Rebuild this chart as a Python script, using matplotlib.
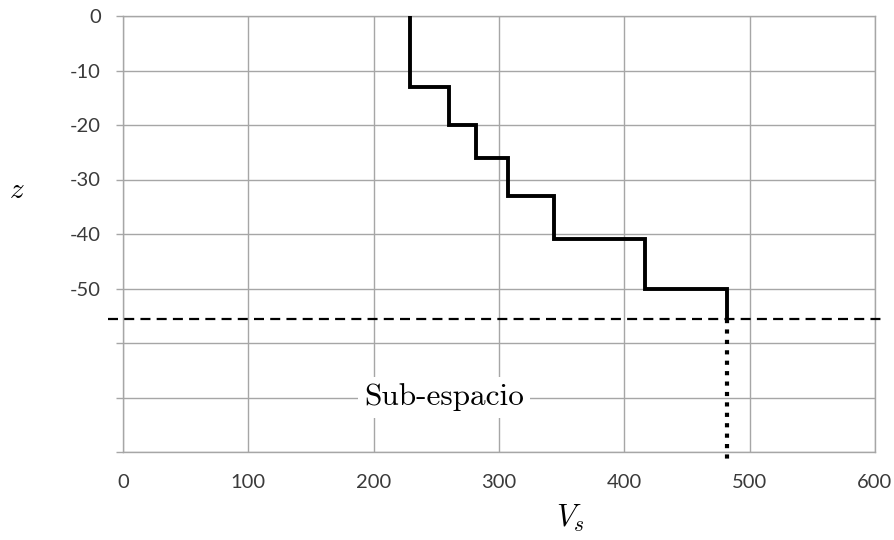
import matplotlib
matplotlib.use("Agg")
import matplotlib.pyplot as plt

# Data
vs_values = [229, 229, 260.5, 260.5, 281.5, 281.5, 307.5, 307.5, 344, 344, 416.5, 416.5, 482, 482]
z_values = [0, -13, -13, -20, -20, -26, -26, -33, -33, -41, -41, -50, -50, -55.6]
halfspace_vs = [482, 482]
halfspace_z = [-55.6, -81.8]
boundary_z = -55.6
boundary_x = [-12, 608]
x_ticks = [0, 100, 200, 300, 400, 500, 600]
y_ticks = [0, -10, -20, -30, -40, -50, -60, -70, -80]
y_tick_labels = ["0", "-10", "-20", "-30", "-40", "-50", "", "", ""]

plt.rcParams['mathtext.fontset'] = 'cm'

W, H = 894, 540
fig = plt.figure(figsize=(W / 100, H / 100), dpi=100)
left, right, top, bottom = 123, 875, 16, 452
ax = fig.add_axes([left / W, 1 - bottom / H, (right - left) / W, (bottom - top) / H])

grid_c = '#a6a6a6'
ax.set_xlim(0, 600)
ax.set_ylim(-80, 0)
ax.set_xticks(x_ticks)
ax.set_yticks(y_ticks)
ax.set_yticklabels(y_tick_labels)
ax.grid(True, color=grid_c, linewidth=1.0)
ax.set_axisbelow(True)
for s in ax.spines.values():
    s.set_color(grid_c)
    s.set_linewidth(1.0)
ax.tick_params(axis='y', length=5, color=grid_c, width=1.0, pad=11,
               labelsize=14.5, labelcolor='#3a3a3a')
ax.tick_params(axis='x', length=0, pad=16, labelsize=14.5, labelcolor='#3a3a3a')
for lbl in ax.get_xticklabels() + ax.get_yticklabels():
    lbl.set_fontfamily('Lato')

# Step profile
ax.plot(vs_values, z_values, color='black', linewidth=2.8, solid_joinstyle='miter', zorder=5)
# Half-space (dotted)
ax.plot(halfspace_vs, halfspace_z, color='black', linewidth=3.0, linestyle=(0, (1, 1.5)),
        clip_on=False, zorder=5)
# Boundary (dashed)
ax.plot(boundary_x, [boundary_z, boundary_z], color='black', linewidth=1.6,
        linestyle=(0, (4.5, 2.8)), clip_on=False, zorder=4)

ax.text(256, -70, 'Sub-espacio', family='cmr10', fontsize=22.5, ha='center', va='center',
        bbox=dict(facecolor='white', edgecolor='none', boxstyle='square,pad=0.2'), zorder=3)

fig.text(17 / W, 1 - 190 / H, r'$z$', fontsize=21, ha='center', va='center')
fig.text(570 / W, 1 - 518 / H, r'$V_s$', fontsize=22, ha='center', va='center')

fig.savefig('out.png', dpi=100)
